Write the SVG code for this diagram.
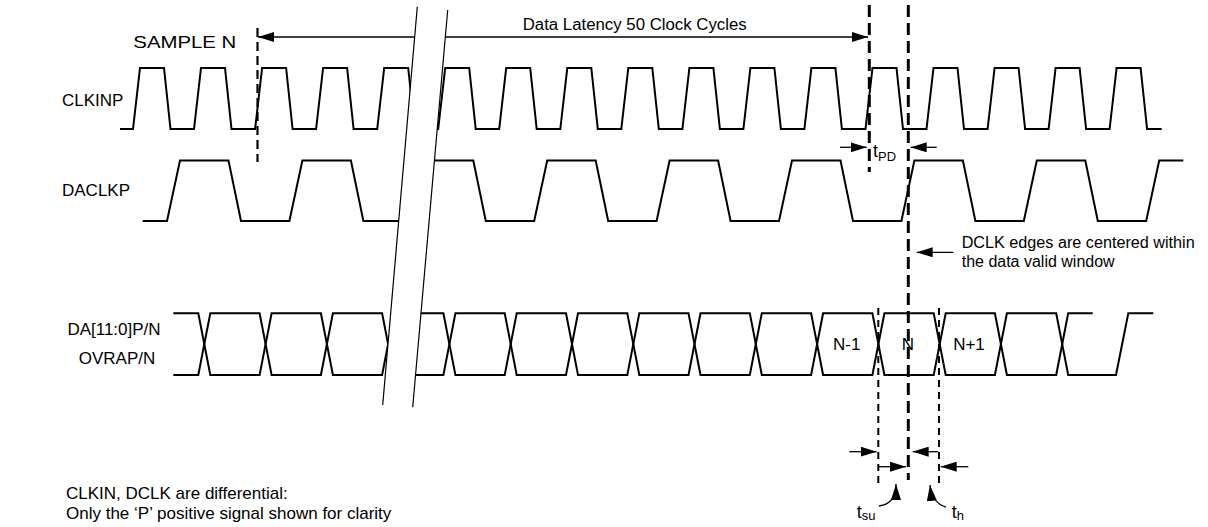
<svg xmlns="http://www.w3.org/2000/svg" width="1208" height="527" viewBox="0 0 1208 527">
<defs>
<style>
.wave{fill:none;stroke:#000;stroke-width:2;stroke-linejoin:miter;stroke-miterlimit:4}
.brk{fill:none;stroke:#000;stroke-width:1.2}
.arr{fill:none;stroke:#000;stroke-width:1.3}
.dashK{fill:none;stroke:#000;stroke-width:3;stroke-dasharray:12 6}
.dashS{fill:none;stroke:#000;stroke-width:2.2;stroke-dasharray:9 5}
.dashT{fill:none;stroke:#000;stroke-width:2;stroke-dasharray:7 5}
text{font-family:"Liberation Sans",Arial,Helvetica,sans-serif;fill:#000}
.lbl{font-size:17px}
</style>
<marker id="ah" viewBox="0 0 16 10" refX="16" refY="5" markerWidth="16" markerHeight="10" markerUnits="userSpaceOnUse" orient="auto-start-reverse"><path d="M0,0 L16,5 L0,10 z" fill="#000"/></marker>
</defs>
<rect width="1208" height="527" fill="#fff"/>

<g id="clkinp">
<path class="wave" d="M120,129 H133 L140,68 H164 L170.5,129 H194 L201,68 H225 L231.5,129 H255.1 L262.1,68 H286.1 L292.6,129 H316.1 L323.1,68 H347.1 L353.6,129 H377.2 L384.2,68 H408.2 L414.7,129 H438.2 L445.2,68 H469.2 L475.7,129 H499.2 L506.2,68 H530.2 L536.7,129 H560.3 L567.3,68 H591.3 L597.8,129 H621.3 L628.3,68 H652.3 L658.8,129 H682.4 L689.4,68 H713.4 L719.9,129 H743.4 L750.4,68 H774.4 L780.9,129 H804.4 L811.4,68 H835.4 L841.9,129 H865.5 L872.5,68 H896.5 L903,129 H926.5 L933.5,68 H957.5 L964,129 H987.6 L994.6,68 H1018.6 L1025.1,129 H1048.6 L1055.6,68 H1079.6 L1086.1,129 H1109.6 L1116.6,68 H1140.6 L1147.1,129 H1161.7"/>
<text class="lbl" x="62" y="106">CLKINP</text>
</g>

<g id="daclkp">
<path class="wave" d="M142.7,221 H167 L180,160.5 H228.5 L241,221 H289.4 L302.4,160.5 H350.9 L363.4,221 H411.8 L424.8,160.5 H473.3 L485.8,221 H534.2 L547.2,160.5 H595.7 L608.2,221 H656.6 L669.6,160.5 H718.1 L730.6,221 H779 L792,160.5 H840.5 L853,221 H901.4 L914.4,160.5 H962.9 L975.4,221 H1023.8 L1036.8,160.5 H1085.3 L1097.8,221 H1146.2 L1159.2,160.5 H1183.3"/>
<text class="lbl" x="62" y="196">DACLKP</text>
</g>

<g id="data">
<path class="wave" d="M173.3,313.3 H198.3 L210.3,375 H259.6 L271.6,313.3 H320.9 L332.9,375 H382.1 L394.1,313.3 H443.4 L455.4,375 H504.7 L516.7,313.3 H566 L578,375 H627.3 L639.3,313.3 H688.5 L700.5,375 H749.8 L761.8,313.3 H811.1 L823.1,375 H872.4 L884.4,313.3 H933.7 L945.7,375 H994.9 L1006.9,313.3 H1056.2 L1068.2,375 H1116 L1128.3,313.3 H1153.3"/>
<path class="wave" d="M173.3,375 H198.3 L210.3,313.3 H259.6 L271.6,375 H320.9 L332.9,313.3 H382.1 L394.1,375 H443.4 L455.4,313.3 H504.7 L516.7,375 H566 L578,313.3 H627.3 L639.3,375 H688.5 L700.5,313.3 H749.8 L761.8,375 H811.1 L823.1,313.3 H872.4 L884.4,375 H933.7 L945.7,313.3 H994.9 L1006.9,375 H1056.2 L1068.2,313.3 H1092.7"/>
<text class="lbl" x="114" y="335" text-anchor="middle">DA[11:0]P/N</text>
<text class="lbl" x="117" y="364" text-anchor="middle">OVRAP/N</text>
<text class="lbl" x="846.7" y="350" text-anchor="middle">N-1</text>
<text class="lbl" x="908" y="350" text-anchor="middle">N</text>
<text class="lbl" x="969" y="350" text-anchor="middle">N+1</text>
</g>

<g id="connectors">
<line class="arr" x1="258" y1="37" x2="868" y2="37" marker-start="url(#ah)" marker-end="url(#ah)"/>
<line class="dashS" x1="257.5" y1="28" x2="257.5" y2="162"/>
<line class="dashK" x1="869.3" y1="5" x2="869.3" y2="172"/>
<line class="dashK" x1="908.3" y1="5" x2="908.3" y2="480"/>
<line class="dashT" x1="878.3" y1="308" x2="878.3" y2="484"/>
<line class="dashT" x1="939" y1="308" x2="939" y2="484"/>
<line class="arr" x1="840" y1="147.3" x2="866.7" y2="147.3" marker-end="url(#ah)"/>
<line class="arr" x1="936.7" y1="147.3" x2="910.7" y2="147.3" marker-end="url(#ah)"/>
<line class="arr" x1="953.3" y1="252.3" x2="916.7" y2="252.3" marker-end="url(#ah)"/>
<line class="arr" x1="849.3" y1="451.7" x2="876.7" y2="451.7" marker-end="url(#ah)"/>
<line class="arr" x1="938.3" y1="451.7" x2="912.7" y2="451.7" marker-end="url(#ah)"/>
<line class="arr" x1="878.3" y1="466.7" x2="906" y2="466.7" marker-end="url(#ah)"/>
<line class="arr" x1="968.3" y1="466.7" x2="940.7" y2="466.7" marker-end="url(#ah)"/>
<path class="arr" d="M879,506 Q896,504 896,484" marker-end="url(#ah)"/>
<path class="arr" d="M946,507 Q932,503 930,485" marker-end="url(#ah)"/>
</g>

<g id="break">
<polygon points="417.3,6.7 447.7,10 412.7,407.3 382.7,405" fill="#fff"/>
<line class="brk" x1="417.3" y1="6.7" x2="382.7" y2="405"/>
<line class="brk" x1="447.7" y1="10" x2="412.7" y2="407.3"/>
</g>

<g id="labels">
<text class="lbl" x="133.3" y="48" textLength="103" lengthAdjust="spacingAndGlyphs">SAMPLE N</text>
<text class="lbl" x="522.7" y="30" font-size="16" style="font-size:16px" textLength="224" lengthAdjust="spacingAndGlyphs">Data Latency 50 Clock Cycles</text>
<text class="lbl" x="961.7" y="247.7" style="font-size:16px" textLength="233" lengthAdjust="spacingAndGlyphs">DCLK edges are centered within</text>
<text class="lbl" x="961.7" y="266.7" style="font-size:16px">the data valid window</text>
<text class="lbl" x="66" y="499">CLKIN, DCLK are differential:</text>
<text class="lbl" x="66" y="519">Only the ‘P’ positive signal shown for clarity</text>
<text x="873" y="157" font-size="18">t<tspan font-size="13" dy="3.5">PD</tspan></text>
<text x="856.7" y="518" font-size="18">t<tspan font-size="13" dy="2">su</tspan></text>
<text x="951.7" y="518" font-size="18">t<tspan font-size="13" dy="2">h</tspan></text>
</g>
</svg>
